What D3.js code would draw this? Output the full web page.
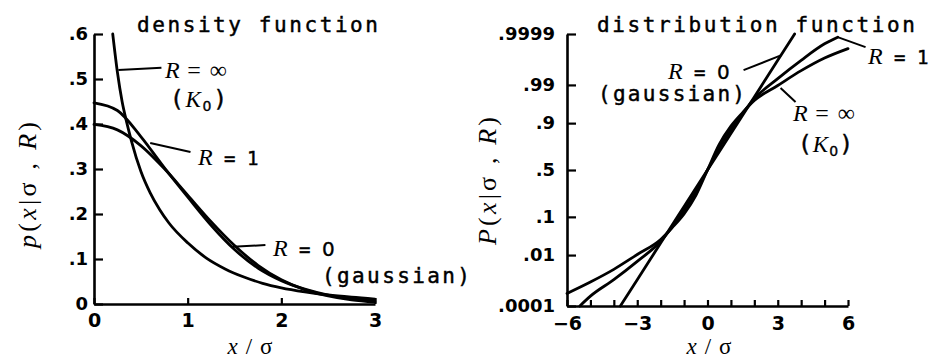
<!DOCTYPE html>
<html>
<head>
<meta charset="utf-8">
<script src="https://cdn.jsdelivr.net/npm/d3@7"></script>
<style>
  body { margin: 0; background: #fff; }
  svg { display: block; }
  .mono { font-family: "DejaVu Sans Mono", "Liberation Mono", monospace; stroke: #000; stroke-width: 0.45px; }
  .plain0 { font-family: "DejaVu Sans", sans-serif; stroke: #000; stroke-width: 0.35px; }
  .ser { font-family: "Liberation Serif", "DejaVu Serif", serif; stroke: none; }
  .tick text { font-family: "DejaVu Sans", sans-serif; font-weight: bold; font-size: 18px; fill: #000; }
  .xaxis .tick text { font-size: 19px; }
</style>
</head>
<body>
<svg id="chart" width="930" height="359"></svg>
<script>
// ---- density panel: p(x | sigma, R) ----
const densityTicks = [0, 0.1, 0.2, 0.3, 0.4, 0.5, 0.6];
const densityTickLabels = ["0", ".1", ".2", ".3", ".4", ".5", ".6"];
const densityXTicks = [0, 1, 2, 3];
const densityXTickLabels = ["0", "1", "2", "3"];

const densX = [0, 0.25, 0.5, 0.75, 1, 1.25, 1.5, 1.75, 2, 2.25, 2.5, 2.75, 3];
const gaussDensity = [0.399, 0.387, 0.352, 0.301, 0.242, 0.183, 0.130, 0.086, 0.054, 0.032, 0.018, 0.009, 0.004];
const r1Density = [0.447, 0.430, 0.372, 0.303, 0.238, 0.175, 0.121, 0.080, 0.052, 0.033, 0.020, 0.012, 0.007];

const k0X = [0.2, 0.25, 0.3, 0.35, 0.4, 0.5, 0.6, 0.7, 0.8, 1, 1.2, 1.4, 1.6, 1.8, 2, 2.25, 2.5, 2.75, 3];
const k0Density = [0.600, 0.515, 0.450, 0.403, 0.362, 0.295, 0.247, 0.210, 0.180, 0.136, 0.102, 0.078, 0.060, 0.046, 0.036, 0.027, 0.020, 0.015, 0.011];

// ---- distribution panel: P(x | sigma, R) on probability paper ----
const probTicks = [0.0001, 0.01, 0.1, 0.5, 0.9, 0.99, 0.9999];
const probTickLabels = [".0001", ".01", ".1", ".5", ".9", ".99", ".9999"];
const cdfXTicks = [-6, -5, -4, -3, -2, -1, 0, 1, 2, 3, 4, 5, 6];
const cdfXTickLabels = ["\u22126", "", "", "\u22123", "", "", "0", "", "", "3", "", "", "6"];

const gaussX = [-3.72, -3, -2, -1, 0, 1, 2, 3, 3.72];
const gaussCdf = [0.0001, 0.00135, 0.0228, 0.1587, 0.5, 0.8413, 0.9772, 0.99865, 0.9999];

const r1X = [-5.45, -5, -4, -3, -2, -1.5, -1, -0.5, 0, 0.5, 1, 1.5, 2, 3, 4, 5, 5.56];
const r1Cdf = [0.0001, 0.00028, 0.00135, 0.0062, 0.0256, 0.0606, 0.1357, 0.2743, 0.5, 0.7257, 0.8643, 0.9394, 0.9744, 0.9938, 0.99865, 0.99972, 0.99986];

const k0CdfX = [-6, -5, -4, -3, -2, -1.5, -1, -0.5, 0, 0.5, 1, 1.5, 2, 3, 4, 5, 6];
const k0Cdf = [0.00037, 0.0011, 0.0033, 0.0104, 0.0287, 0.0582, 0.1151, 0.2420, 0.5, 0.7580, 0.8849, 0.9418, 0.9713, 0.9896, 0.9967, 0.9989, 0.99955];

// inverse standard normal CDF (Acklam), used for the probability axis
function probit(p) {
  const a = [-3.969683028665376e+01, 2.209460984245205e+02, -2.759285104469687e+02, 1.383577518672690e+02, -3.066479806614716e+01, 2.506628277459239e+00];
  const b = [-5.447609879822406e+01, 1.615858368580409e+02, -1.556989798598866e+02, 6.680131188771972e+01, -1.328068155288572e+01];
  const c = [-7.784894002430293e-03, -3.223964580411365e-01, -2.400758277161838e+00, -2.549671348283234e+00, 4.374664141464968e+00, 2.938163982698783e+00];
  const d = [7.784695709041462e-03, 3.224671290700398e-01, 2.445134137142996e+00, 3.754408661907416e+00];
  const pl = 0.02425, ph = 1 - pl;
  let q, r;
  if (p < pl) {
    q = Math.sqrt(-2 * Math.log(p));
    return (((((c[0]*q+c[1])*q+c[2])*q+c[3])*q+c[4])*q+c[5]) / ((((d[0]*q+d[1])*q+d[2])*q+d[3])*q+1);
  }
  if (p <= ph) {
    q = p - 0.5; r = q * q;
    return (((((a[0]*r+a[1])*r+a[2])*r+a[3])*r+a[4])*r+a[5])*q / (((((b[0]*r+b[1])*r+b[2])*r+b[3])*r+b[4])*r+1);
  }
  q = Math.sqrt(-2 * Math.log(1 - p));
  return -(((((c[0]*q+c[1])*q+c[2])*q+c[3])*q+c[4])*q+c[5]) / ((((d[0]*q+d[1])*q+d[2])*q+d[3])*q+1);
}

const svg = d3.select("#chart");
const CURVE_W = 2.8, AXIS_W = 2.6, LEADER_W = 2;

// scales
const xD = d3.scaleLinear().domain([0, 3]).range([94, 375]);
const yD = d3.scaleLinear().domain([0, 0.6]).range([304, 34]);
const xC = d3.scaleLinear().domain([-6, 6]).range([567, 848]);
const zC = d3.scaleLinear().domain([probit(0.0001), probit(0.9999)]).range([306, 34]);
const yC = p => zC(probit(p));

function styleAxis(g) {
  g.attr("font-family", null).attr("font-size", null);
  g.select(".domain").attr("stroke", "#000").attr("stroke-width", AXIS_W);
  g.selectAll(".tick line").attr("stroke", "#000").attr("stroke-width", 2.2);
}

// density axes
svg.append("g").attr("transform", `translate(${xD(0)},0)`)
  .call(d3.axisLeft(yD).tickValues(densityTicks).tickFormat((d, i) => densityTickLabels[i])
    .tickSizeInner(-9).tickSizeOuter(0).tickPadding(6))
  .call(styleAxis);
svg.append("g").attr("class", "xaxis").attr("transform", `translate(0,${yD(0)})`)
  .call(d3.axisBottom(xD).tickValues(densityXTicks).tickFormat((d, i) => densityXTickLabels[i])
    .tickSizeInner(-6).tickSizeOuter(0).tickPadding(10))
  .call(styleAxis);

// distribution axes
svg.append("g").attr("transform", `translate(${xC(-6)},0)`)
  .call(d3.axisLeft(zC).tickValues(probTicks.map(probit)).tickFormat((d, i) => probTickLabels[i])
    .tickSizeInner(-9).tickSizeOuter(0).tickPadding(12))
  .call(styleAxis);
svg.append("g").attr("class", "xaxis").attr("transform", `translate(0,${zC(probit(0.0001))})`)
  .call(d3.axisBottom(xC).tickValues(cdfXTicks).tickFormat((d, i) => cdfXTickLabels[i])
    .tickSizeInner(-6).tickSizeOuter(0).tickPadding(11))
  .call(styleAxis);

// curves
const lineD = d3.line().x(d => xD(d[0])).y(d => yD(d[1])).curve(d3.curveMonotoneX);
const lineC = d3.line().x(d => xC(d[0])).y(d => yC(d[1])).curve(d3.curveMonotoneX);
const zip = (xs, ys) => xs.map((x, i) => [x, ys[i]]);

const curveStyle = sel => sel.attr("fill", "none").attr("stroke", "#000")
  .attr("stroke-width", CURVE_W).attr("stroke-linejoin", "round").attr("stroke-linecap", "round");

[zip(densX, gaussDensity), zip(densX, r1Density), zip(k0X, k0Density)].forEach(s =>
  svg.append("path").attr("d", lineD(s)).call(curveStyle));
[zip(gaussX, gaussCdf), zip(r1X, r1Cdf), zip(k0CdfX, k0Cdf)].forEach(s =>
  svg.append("path").attr("d", lineC(s)).call(curveStyle));

// leader lines, given in each panel's data units
const densityLeaders = [
  [[0.26, 0.52], [0.72, 0.525]],   // R = inf
  [[0.60, 0.358], [1.03, 0.338]],  // R = 1
  [[1.48, 0.127], [1.83, 0.131]]   // R = 0
];
const cdfLeaders = [
  [[1.54, 0.99683], [3.16, 0.99916]], // R = 0
  [[3.12, 0.98745], [3.76, 0.96856]], // R = inf
  [[5.56, 0.99986], [6.75, 0.99961]]  // R = 1
];
densityLeaders.forEach(l => svg.append("line")
  .attr("x1", xD(l[0][0])).attr("y1", yD(l[0][1])).attr("x2", xD(l[1][0])).attr("y2", yD(l[1][1]))
  .attr("stroke", "#000").attr("stroke-width", LEADER_W));
cdfLeaders.forEach(l => svg.append("line")
  .attr("x1", xC(l[0][0])).attr("y1", yC(l[0][1])).attr("x2", xC(l[1][0])).attr("y2", yC(l[1][1]))
  .attr("stroke", "#000").attr("stroke-width", LEADER_W));

// text helpers
function monoText(x, y, str, len, size) {
  return svg.append("text").attr("class", "mono").attr("x", x).attr("y", y)
    .attr("font-size", size || 21).attr("textLength", len).attr("lengthAdjust", "spacing").text(str);
}
// "R = value" labels: italic R followed by the value part
function rLabel(x, y, rest, kind) {
  const t = svg.append("text").attr("x", x).attr("y", y);
  t.append("tspan").attr("class", "ser").attr("font-style", "italic").attr("font-size", 24).text("R");
  if (kind === "serif") {
    t.append("tspan").attr("class", "ser").attr("font-size", 24).attr("letter-spacing", 1.5).text(" = " + rest);
  } else if (kind === "zero") {
    t.append("tspan").attr("class", "mono").attr("font-size", 19).text(" = ");
    t.append("tspan").attr("class", "plain0").attr("font-size", 20).text(rest);
  } else {
    t.append("tspan").attr("class", "mono").attr("font-size", 19).text(" = " + rest);
  }
  return t;
}
function k0Label(x, y, len) {
  const t = svg.append("text").attr("x", x).attr("y", y).attr("textLength", len).attr("lengthAdjust", "spacing");
  t.append("tspan").attr("class", "mono").attr("font-size", 23).text("(");
  t.append("tspan").attr("class", "ser").attr("font-style", "italic").attr("font-size", 23).text("K");
  t.append("tspan").attr("class", "plain0").attr("font-size", 14).attr("dy", 4).text("0");
  t.append("tspan").attr("class", "mono").attr("font-size", 23).attr("dy", -4).text(")");
}
function yLabel(cx, cy, first, len) {
  const t = svg.append("text").attr("transform", `translate(${cx},${cy}) rotate(-90)`)
    .attr("text-anchor", "middle").attr("class", "ser").attr("font-size", 26)
    .attr("textLength", len).attr("lengthAdjust", "spacing");
  t.append("tspan").attr("font-style", "italic").text(first);
  t.append("tspan").text("(");
  t.append("tspan").attr("font-style", "italic").text("x");
  t.append("tspan").text("|\u03c3 , ");
  t.append("tspan").attr("font-style", "italic").text("R");
  t.append("tspan").text(")");
}
function xLabel(cx, y, len) {
  const t = svg.append("text").attr("x", cx).attr("y", y).attr("text-anchor", "middle")
    .attr("class", "ser").attr("font-size", 23).attr("textLength", len).attr("lengthAdjust", "spacing");
  t.append("tspan").attr("font-style", "italic").text("x");
  t.append("tspan").text("/\u03c3");
}

// titles
monoText(137, 32, "density function", 241);
monoText(597, 32, "distribution function", 318);

// density labels
rLabel(165, 78, "\u221e", "serif");
k0Label(170, 107, 57);
rLabel(198, 165, "1", "mono");
rLabel(273, 256, "0", "zero");
monoText(322, 283, "(gaussian)", 148);

// distribution labels
rLabel(668, 79, "0", "zero");
monoText(598, 101, "(gaussian)", 147);
rLabel(793, 121, "\u221e", "serif");
k0Label(798, 152, 55);
rLabel(868, 64, "1", "mono");

// axis titles
yLabel(36, 185, "p", 126);
yLabel(496, 181, "P", 128);
xLabel(250, 354, 45);
xLabel(709, 354, 45);
</script>
</body>
</html>
